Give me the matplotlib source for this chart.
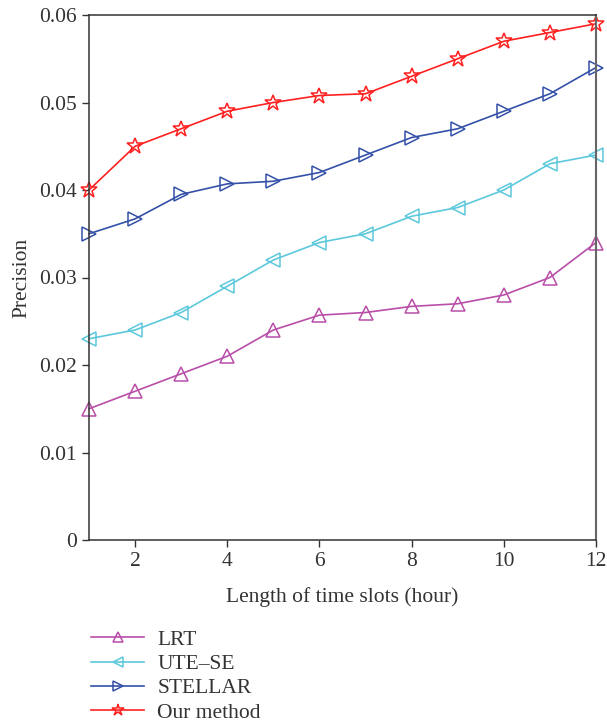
import matplotlib
matplotlib.use("Agg")
import matplotlib.pyplot as plt

x = [1, 2, 3, 4, 5, 6, 7, 8, 9, 10, 11, 12]
lrt = [0.015, 0.017, 0.019, 0.021, 0.024, 0.0257, 0.026, 0.0267, 0.027, 0.028, 0.030, 0.034]
ute_se = [0.023, 0.024, 0.026, 0.029, 0.032, 0.034, 0.035, 0.037, 0.038, 0.040, 0.043, 0.044]
stellar = [0.035, 0.0367, 0.0395, 0.0407, 0.041, 0.042, 0.044, 0.046, 0.047, 0.049, 0.051, 0.054]
ours = [0.040, 0.045, 0.047, 0.049, 0.050, 0.0508, 0.051, 0.053, 0.055, 0.057, 0.058, 0.059]

labels = ["LRT", "UTE\u2013SE", "STELLAR", "Our method"]
colors = ["#b84ea8", "#5cc8dc", "#3450a8", "#ff2020"]
markers = ["^", "<", ">", "*"]
sizes = [10, 10, 10, 12]

plt.rcParams['font.family'] = ['Liberation Serif', 'DejaVu Serif']

fig = plt.figure(figsize=(6.07, 7.24), dpi=100)
ax = fig.add_axes([89/607, 1-540/724, (596-89)/607, (540-15)/724])

for ys, lab, c, m, s in zip([lrt, ute_se, stellar, ours], labels, colors, markers, sizes):
    ax.plot(x, ys, color=c, marker=m, markersize=s, markerfacecolor='none',
            markeredgecolor=c, markeredgewidth=1.1, linewidth=1.2, label=lab, clip_on=False)

ax.set_xlim(1, 12)
ax.set_ylim(0, 0.06)
ax.set_xticks([2, 4, 6, 8, 10, 12])
ax.set_yticks([0, 0.01, 0.02, 0.03, 0.04, 0.05, 0.06])
ax.set_yticklabels(["0", "0.01", "0.02", "0.03", "0.04", "0.05", "0.06"])
ax.tick_params(direction='out', labelsize=15.5, colors='#333333', length=5, width=1)
for sp in ax.spines.values():
    sp.set_color('#333333')
    sp.set_linewidth(1.1)
ax.spines['right'].set_color('#666666')
ax.spines['right'].set_linewidth(1.5)

ax.set_xlabel("Length of time slots (hour)", fontsize=15.5, color='#333333', labelpad=12)
ax.set_ylabel("Precision", fontsize=15.5, color='#333333', labelpad=6)

fig.legend(loc='upper left', bbox_to_anchor=(82/607, 1-621/724), frameon=False,
           fontsize=15.5, handlelength=2.5, labelspacing=0.2, handletextpad=0.6,
           borderaxespad=0, markerscale=0.75, labelcolor='#333333')

fig.savefig("out.png", dpi=100)
